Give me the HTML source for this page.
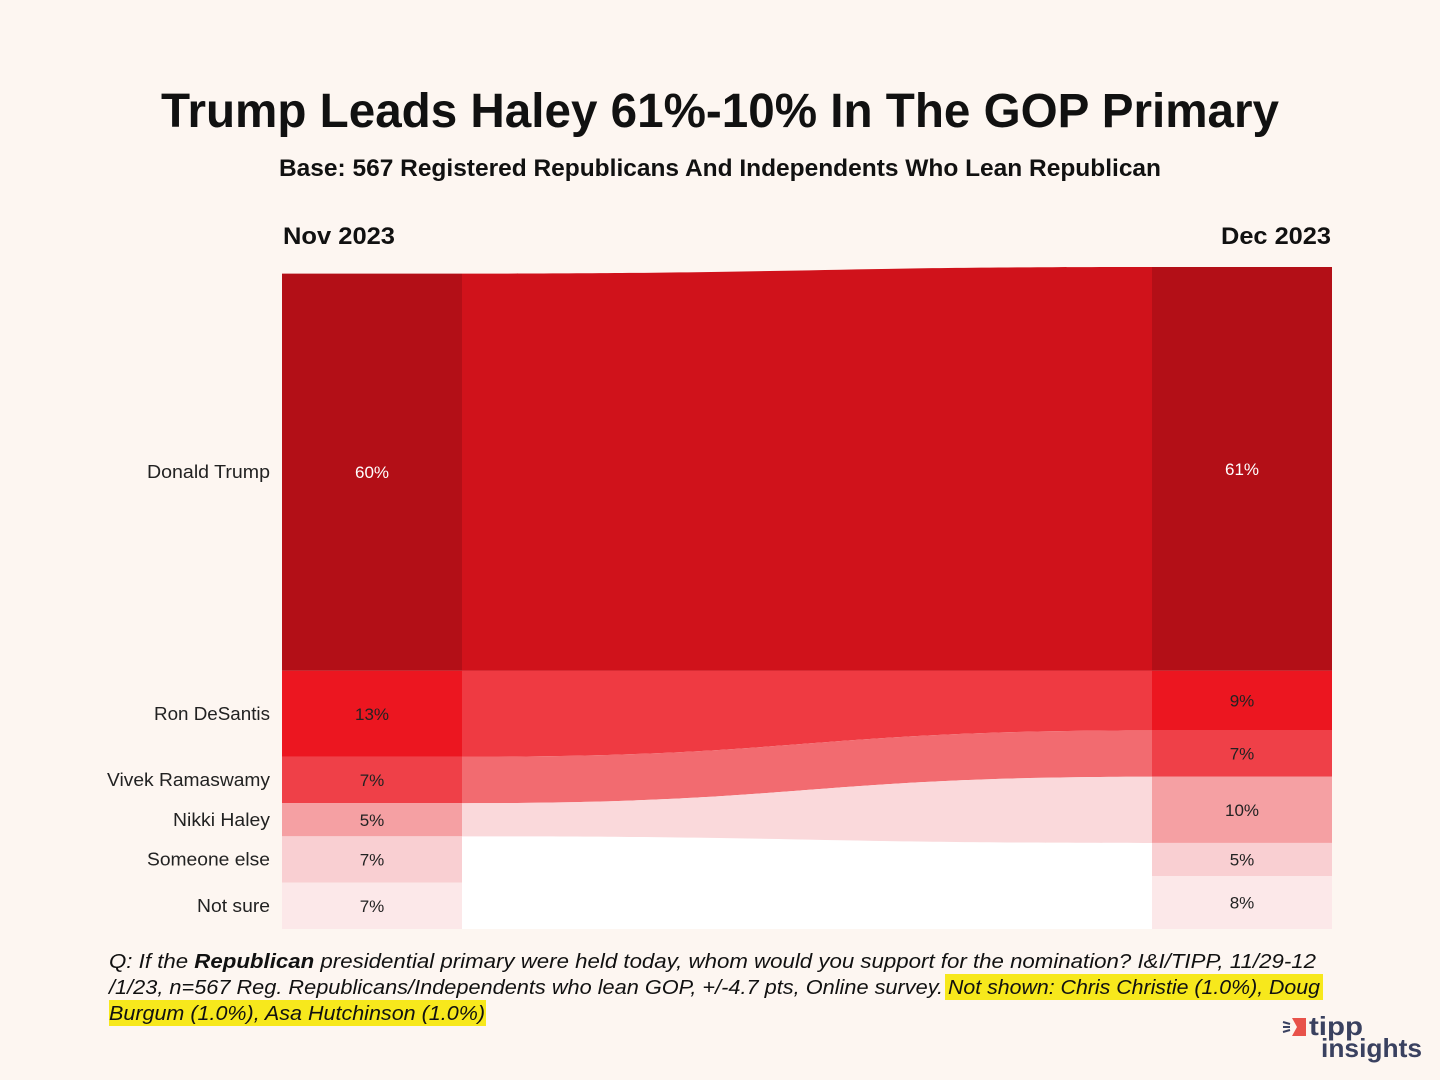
<!DOCTYPE html>
<html><head><meta charset="utf-8"><style>
html,body{margin:0;padding:0;background:#fdf6f1;}
svg{display:block;font-family:"Liberation Sans",sans-serif;}
</style></head><body>
<svg width="1440" height="1080" viewBox="0 0 1440 1080">
<rect width="1440" height="1080" fill="#fdf6f1"/>
<text x="720" y="127" text-anchor="middle" font-size="48" font-weight="bold" fill="#111" textLength="1118" lengthAdjust="spacingAndGlyphs">Trump Leads Haley 61%-10% In The GOP Primary</text>
<text x="720" y="176" text-anchor="middle" font-size="24" font-weight="bold" fill="#111" textLength="882" lengthAdjust="spacingAndGlyphs">Base: 567 Registered Republicans And Independents Who Lean Republican</text>
<text x="283" y="244" font-size="24" font-weight="bold" fill="#111" textLength="112" lengthAdjust="spacingAndGlyphs">Nov 2023</text>
<text x="1331" y="244" text-anchor="end" font-size="24" font-weight="bold" fill="#111" textLength="110" lengthAdjust="spacingAndGlyphs">Dec 2023</text>
<rect x="462" y="836" width="690" height="93" fill="#ffffff"/>
<g id="flows"></g>
<g id="bars"></g>
<g id="labels"></g>
<text font-size="20" font-style="italic" fill="#111">
<tspan x="109" y="968" textLength="1207" lengthAdjust="spacingAndGlyphs">Q:  If the <tspan font-weight="bold">Republican</tspan>  presidential primary were held today, whom would you support for the nomination? I&amp;I/TIPP, 11/29-12</tspan>
</text>
<rect x="945" y="974" width="378" height="26" fill="#f7e81c"/>
<rect x="109" y="1000" width="377" height="26" fill="#f7e81c"/>
<text x="109" y="994" font-size="20" font-style="italic" fill="#111" textLength="834" lengthAdjust="spacingAndGlyphs">/1/23, n=567 Reg. Republicans/Independents who lean GOP, +/-4.7 pts, Online survey.</text>
<text x="948" y="994" font-size="20" font-style="italic" fill="#111" textLength="372" lengthAdjust="spacingAndGlyphs">Not shown: Chris Christie (1.0%), Doug</text>
<text x="109" y="1020" font-size="20" font-style="italic" fill="#111" textLength="376" lengthAdjust="spacingAndGlyphs">Burgum (1.0%), Asa Hutchinson (1.0%)</text>
<g>
<polygon points="1292,1018 1306,1018 1306,1036 1292,1036 1297,1027" fill="#e8524a"/>
<line x1="1283" y1="1022" x2="1290" y2="1024" stroke="#3a4160" stroke-width="2"/>
<line x1="1283" y1="1027" x2="1290" y2="1027" stroke="#3a4160" stroke-width="2"/>
<line x1="1283" y1="1032" x2="1290" y2="1030" stroke="#3a4160" stroke-width="2"/>
<text x="1309" y="1035" font-size="26" font-weight="bold" fill="#3a4160" textLength="54" lengthAdjust="spacingAndGlyphs">tipp</text>
<text x="1321" y="1057" font-size="26" font-weight="bold" fill="#3a4160" textLength="101" lengthAdjust="spacingAndGlyphs">insights</text>
</g>
</svg>
<script>
const categories = ["Donald Trump","Ron DeSantis","Vivek Ramaswamy","Nikki Haley","Someone else","Not sure"];
const novValues = [60,13,7,5,7,7];
const decValues = [61,9,7,10,5,8];
const novLabels = ["60%","13%","7%","5%","7%","7%"];
const decLabels = ["61%","9%","7%","10%","5%","8%"];
const flowShown = [true,true,true,true,false,false];
const barColors = ["#b30f17","#ec1620","#ef4048","#f5a0a3","#f9cfd2","#fce8e9"];
const flowColors = ["#d0121b","#ef3a42","#f26b70","#fad9db","none","none"];
const labelWidths = [123,116,163,97,123,73];

const NS="http://www.w3.org/2000/svg";
const bottom=929, scale=6.62, leftX=282, rightX=1152, barW=180;
function stack(vals){const tot=vals.reduce((a,b)=>a+b,0);let y=bottom-tot*scale;return vals.map(v=>{const s={y0:y,y1:y+v*scale};y+=v*scale;return s;});}
const L=stack(novValues), R=stack(decValues);
const gF=document.getElementById('flows'), gB=document.getElementById('bars'), gL=document.getElementById('labels');
function mk(tag,attrs,parent){const e=document.createElementNS(NS,tag);for(const k in attrs)e.setAttribute(k,attrs[k]);parent.appendChild(e);return e;}
const x0=leftX+barW, x1=rightX, mx=(x0+x1)/2;
categories.forEach((c,i)=>{
  const slug=c.toLowerCase().replace(/\s+/g,'-');
  if(flowShown[i]){
    const d=`M${x0},${L[i].y0} C${mx},${L[i].y0} ${mx},${R[i].y0} ${x1},${R[i].y0} L${x1},${R[i].y1} C${mx},${R[i].y1} ${mx},${L[i].y1} ${x0},${L[i].y1} Z`;
    const p=mk('path',{d:d,fill:flowColors[i]},gF);
    
    
  }
  const b1=mk('rect',{x:leftX,y:L[i].y0,width:barW,height:L[i].y1-L[i].y0,fill:barColors[i]},gB);
  
  
  const b2=mk('rect',{x:rightX,y:R[i].y0,width:barW,height:R[i].y1-R[i].y0,fill:barColors[i]},gB);
  
  
  const col=i===0?'#fff':'#222';
  const t1=mk('text',{x:leftX+barW/2,y:(L[i].y0+L[i].y1)/2+6,'text-anchor':'middle','font-size':17,fill:col},gL);
  t1.textContent=novLabels[i];
  
  
  const t2=mk('text',{x:rightX+barW/2,y:(R[i].y0+R[i].y1)/2+6,'text-anchor':'middle','font-size':17,fill:col},gL);
  t2.textContent=decLabels[i];
  
  
  const t3=mk('text',{x:270,y:(L[i].y0+L[i].y1)/2+6,'text-anchor':'end','font-size':18,fill:'#222',textLength:labelWidths[i],lengthAdjust:'spacingAndGlyphs'},gL);
  t3.textContent=c;
  
  
});
</script>
</body></html>
